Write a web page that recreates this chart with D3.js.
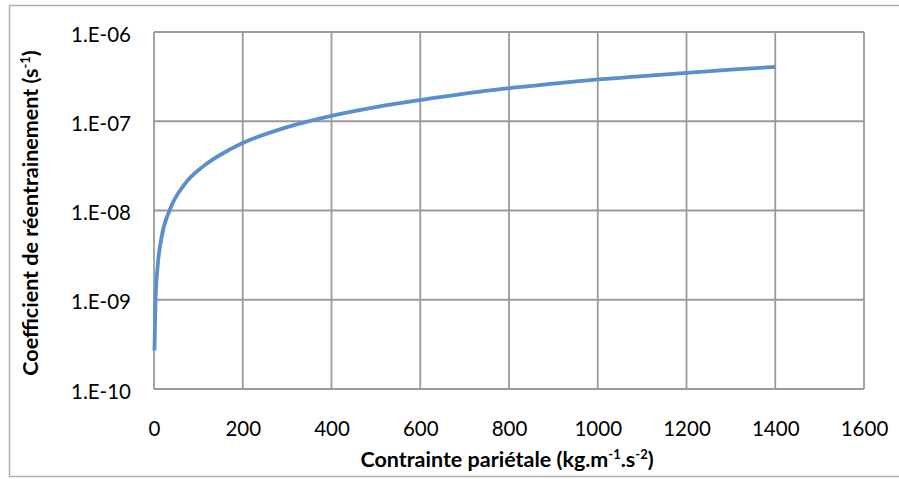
<!DOCTYPE html>
<html>
<head>
<meta charset="utf-8">
<script src="https://cdn.jsdelivr.net/npm/d3@7"></script>
<style>
  body { margin: 0; background: #fff; }
  svg text { font-family: Lato, "Open Sans", sans-serif; fill: #000; }
</style>
</head>
<body>
<div id="chart"></div>
<script>
// values
var tau = [1, 3.5, 8, 17, 35, 70, 110, 170, 200, 300, 400, 500, 600, 700, 800, 900, 1000, 1100, 1200, 1300, 1400];
var coef = [2.7e-10, 1.0e-9, 2.3e-9, 5.0e-9, 1.0e-8, 2.0e-8, 3.1e-8, 4.8e-8, 5.7e-8, 8.6e-8, 1.15e-7, 1.44e-7,
            1.73e-7, 2.04e-7, 2.35e-7, 2.64e-7, 2.94e-7, 3.2e-7, 3.49e-7, 3.78e-7, 4.07e-7];
var xTicks = [0, 200, 400, 600, 800, 1000, 1200, 1400, 1600];
var yTicks = [1e-10, 1e-9, 1e-8, 1e-7, 1e-6];
var yTickLabels = ["1.E-10", "1.E-09", "1.E-08", "1.E-07", "1.E-06"];

var width = 899, height = 479;
var margin = {top: 32, right: 35, bottom: 91, left: 154};

var svg = d3.select("#chart").append("svg")
    .attr("width", width)
    .attr("height", height);

// outer chart border
svg.append("rect")
    .attr("x", 9.5).attr("y", 5.5)
    .attr("width", 900).attr("height", 471)
    .attr("fill", "none")
    .attr("stroke", "#b0b0b0")
    .attr("stroke-width", 1.5);

var x = d3.scaleLinear().domain([0, 1600]).range([margin.left, width - margin.right]);
var y = d3.scaleLog().domain([1e-10, 1e-6]).range([height - margin.bottom + 1, margin.top]);

var grid = svg.append("g");
grid.selectAll(".vg").data(xTicks).enter().append("line")
    .attr("x1", function(d){ return x(d); })
    .attr("x2", function(d){ return x(d); })
    .attr("y1", y(1e-10)).attr("y2", y(1e-6))
    .attr("stroke", "#9a9a9a").attr("stroke-width", 1.8);
grid.selectAll(".hg").data(yTicks).enter().append("line")
    .attr("y1", function(d){ return y(d); })
    .attr("y2", function(d){ return y(d); })
    .attr("x1", x(0)).attr("x2", x(1600))
    .attr("stroke", "#9a9a9a").attr("stroke-width", 1.8);

// tick labels
var xAxis = d3.axisBottom(x).tickValues(xTicks).tickFormat(d3.format("d")).tickSize(0).tickPadding(32);
var gx = svg.append("g").attr("transform", "translate(0," + y(1e-10) + ")").call(xAxis);
gx.select(".domain").remove();
gx.selectAll("text").style("font-size", "20.5px").style("font-family", "Lato, sans-serif");

var yAxis = d3.axisLeft(y).tickValues(yTicks)
    .tickFormat(function(d){ return yTickLabels[yTicks.indexOf(d)]; })
    .tickSize(0).tickPadding(23);
var gy = svg.append("g").attr("transform", "translate(" + x(0) + ",0)").call(yAxis);
gy.select(".domain").remove();
gy.selectAll("text").style("font-size", "20.5px").style("font-family", "Lato, sans-serif")
    .attr("dy", "0.45em");

// curve
var line = d3.line()
    .x(function(d, i){ return x(tau[i]); })
    .y(function(d){ return y(d); })
    .curve(d3.curveMonotoneX);

svg.append("path")
    .datum(coef)
    .attr("d", line)
    .attr("fill", "none")
    .attr("stroke", "#5b8fcb")
    .attr("stroke-width", 3.8)
    .attr("stroke-linecap", "butt");

// axis titles
var xt = svg.append("text")
    .attr("x", 507)
    .attr("y", 467)
    .attr("text-anchor", "middle")
    .style("font-size", "21.5px").style("font-weight", "bold");
xt.append("tspan").text("Contrainte pariétale (kg.m");
xt.append("tspan").attr("dy", -8).style("font-size", "13px").text("-1");
xt.append("tspan").attr("dy", 8).text(".s");
xt.append("tspan").attr("dy", -8).style("font-size", "13px").text("-2");
xt.append("tspan").attr("dy", 8).text(")");

var yt = svg.append("text")
    .attr("transform", "translate(38,213) rotate(-90)")
    .attr("text-anchor", "middle")
    .style("font-size", "21.5px").style("font-weight", "bold");
yt.append("tspan").text("Coefficient de réentrainement (s");
yt.append("tspan").attr("dy", -8).style("font-size", "13px").text("-1");
yt.append("tspan").attr("dy", 8).text(")");
</script>
</body>
</html>
